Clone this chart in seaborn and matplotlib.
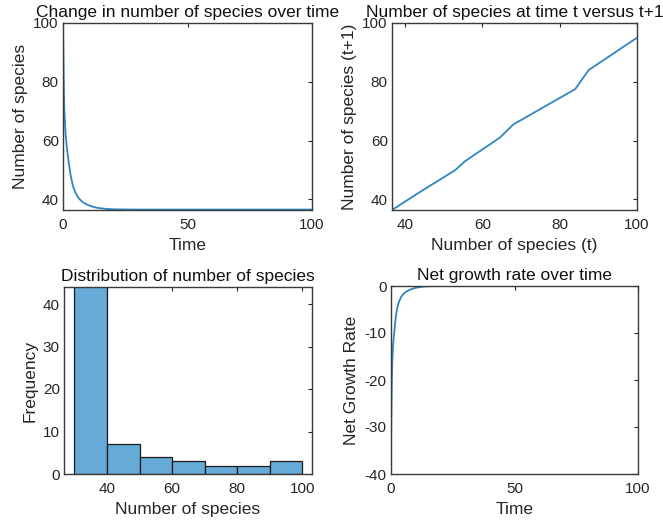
import numpy as np
import pandas as pd
import matplotlib
matplotlib.use("Agg")
import matplotlib.pyplot as plt
import seaborn as sns

# ---- data ----
time_pts = [0, 0.25, 0.5, 1, 1.5, 2, 3, 4, 5, 6, 7, 8, 10, 12, 14, 17, 20, 25, 30, 40, 50, 60, 70, 80, 90, 100]
species = [100, 83, 71, 62.5, 58, 54.5, 48.5, 44.5, 42.3, 40.8, 39.8, 39.0, 38.1, 37.5, 37.1, 36.8,
           36.65, 36.58, 36.55, 36.55, 36.55, 36.55, 36.55, 36.55, 36.55, 36.55]

species_t = [36.6, 45.0, 47.5, 53.0, 55.5, 64.5, 68.0, 84.0, 87.5, 100.0]
species_t1 = [36.4, 43.5, 45.5, 50.0, 53.0, 61.0, 65.5, 77.5, 84.0, 95.0]

bin_edges = [30, 40, 50, 60, 70, 80, 90, 100]
bin_counts = [80, 7, 4, 3, 2, 2, 3]

rate_time = [0, 0.1, 0.2, 0.35, 0.5, 0.75, 1.0, 1.3, 1.6, 2.0, 2.5, 3.0, 4.0, 5.0, 6.0, 8.0, 10.0, 13.0, 16.0, 20.0, 30.0, 50.0, 100.0]
growth_rate = [-35, -30, -25, -20, -16.5, -13.5, -11.5, -10, -8.3, -6.3, -4.8, -3.7, -2.4, -1.7, -1.25, -0.7,
               -0.38, -0.13, -0.04, 0, 0, 0, 0]

# ---- style ----
sns.set_style("white")
plt.rcParams["font.family"] = ["Liberation Sans", "DejaVu Sans"]
plt.rcParams["axes.unicode_minus"] = False

W, H = 663, 532
fig = plt.figure(figsize=(W / 100, H / 100), dpi=100)


def rect(l, r, t, b):
    return [l / W, 1 - b / H, (r - l) / W, (b - t) / H]


ax1 = fig.add_axes(rect(63, 312, 23, 210))
ax2 = fig.add_axes(rect(392, 637, 23, 210))
ax3 = fig.add_axes(rect(64, 312, 287, 474))
ax4 = fig.add_axes(rect(391, 638, 286, 474))

LINE = "#2f86c0"
TXT = "#262626"
SPINE = "#3a3a3a"

df1 = pd.DataFrame({"Time": time_pts, "N": species})
sns.lineplot(data=df1, x="Time", y="N", ax=ax1, color=LINE, linewidth=1.3, estimator=None)
ax1.set_xlim(0, 100)
ax1.set_ylim(36.4, 100)
ax1.set_xticks([0, 50, 100])
ax1.set_yticks([40, 60, 80, 100])
ax1.set_title("Change in number of species over time")
ax1.set_xlabel("Time")
ax1.set_ylabel("Number of species")

df2 = pd.DataFrame({"Nt": species_t, "Nt1": species_t1})
sns.lineplot(data=df2, x="Nt", y="Nt1", ax=ax2, color=LINE, linewidth=1.3, estimator=None, sort=False)
ax2.set_xlim(36.6, 100)
ax2.set_ylim(36.4, 100)
ax2.set_xticks([40, 60, 80, 100])
ax2.set_yticks([40, 60, 80, 100])
ax2.set_title("Number of species at time t versus t+1")
ax2.set_xlabel("Number of species (t)")
ax2.set_ylabel("Number of species (t+1)")

centers = [(a + b) / 2 for a, b in zip(bin_edges[:-1], bin_edges[1:])]
sns.histplot(x=centers, weights=bin_counts, bins=bin_edges, ax=ax3, color="#66aad7", alpha=1,
             edgecolor="#1a1a1a", linewidth=0.9)
ax3.set_xlim(26.8, 103)
ax3.set_ylim(0, 44)
ax3.set_xticks([40, 60, 80, 100])
ax3.set_yticks([0, 10, 20, 30, 40])
ax3.set_title("Distribution of number of species")
ax3.set_xlabel("Number of species")
ax3.set_ylabel("Frequency")

df4 = pd.DataFrame({"Time": rate_time, "R": growth_rate})
sns.lineplot(data=df4, x="Time", y="R", ax=ax4, color=LINE, linewidth=1.3, estimator=None)
ax4.set_xlim(0, 100)
ax4.set_ylim(-40, 0)
ax4.set_xticks([0, 50, 100])
ax4.set_yticks([0, -10, -20, -30, -40])
ax4.set_title("Net growth rate over time")
ax4.set_xlabel("Time")
ax4.set_ylabel("Net Growth Rate")

for ax in (ax1, ax2, ax3, ax4):
    for s in ax.spines.values():
        s.set_visible(True)
        s.set_color(SPINE)
        s.set_linewidth(1.0)
    ax.tick_params(direction="in", length=3, width=0.8, top=True, right=True,
                   labelsize=11, colors=TXT)
    ax.tick_params(axis="x", pad=6)
    ax.tick_params(axis="y", pad=3)
    ax.set_title(ax.get_title(), pad=4, fontsize=12.5, color="#111111")
    ax.xaxis.label.set_fontsize(12.5)
    ax.yaxis.label.set_fontsize(12.5)
    ax.xaxis.label.set_color(TXT)
    ax.yaxis.label.set_color(TXT)
    ax.xaxis.labelpad = 4
    ax.yaxis.labelpad = 4
    ax.grid(False)
    ax.set_facecolor("white")

fig.savefig("out.png", dpi=100, facecolor="white")
